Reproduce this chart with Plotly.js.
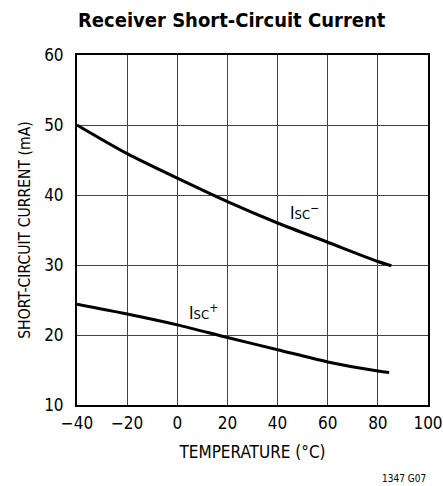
<!DOCTYPE html>
<html>
<head>
<meta charset="utf-8">
<script src="https://cdn.plot.ly/plotly-3.0.1.min.js"></script>
<style>html,body{margin:0;padding:0;background:#fff;}#chart{width:443px;height:486px;}</style>
</head>
<body>
<div id="chart"></div>
<script>
// Data
const temperature = [-40, -20, 0, 20, 40, 60, 80, 85.4];
const iscMinus = [50.0, 45.9, 42.4, 39.05, 36.0, 33.25, 30.5, 29.9];
const temperaturePlus = [-40, -20, 0, 20, 40, 60, 80, 84.5];
const iscPlus = [24.4, 23.0, 21.45, 19.65, 17.9, 16.15, 14.85, 14.65];
const xTicks = [-40, -20, 0, 20, 40, 60, 80, 100];
const xTickText = ['−40', '−20', '0', '20', '40', '60', '80', '100'];
const yTicks = [10, 20, 30, 40, 50, 60];

const FONT = '"DejaVu Sans Condensed", "DejaVu Sans", Arial, sans-serif';

const traces = [
  {x: temperature, y: iscMinus, mode: 'lines', line: {color: '#000', width: 3, shape: 'spline', smoothing: 0.8}, hoverinfo: 'none'},
  {x: temperaturePlus, y: iscPlus, mode: 'lines', line: {color: '#000', width: 3, shape: 'spline', smoothing: 0.8}, hoverinfo: 'none'}
];

const layout = {
  width: 443, height: 486,
  margin: {l: 77, r: 15, t: 55, b: 81},
  paper_bgcolor: '#fff', plot_bgcolor: '#fff',
  showlegend: false,
  font: {family: FONT, color: '#000', size: 17},
  title: {text: '<b>Receiver Short-Circuit Current</b>', x: 0.523, xanchor: 'center', y: 0.958, yanchor: 'middle',
          font: {family: FONT, size: 20, color: '#000'}},
  xaxis: {
    range: [-40, 100], tickvals: xTicks, ticktext: xTickText, ticks: '',
    showgrid: true, gridcolor: '#444', gridwidth: 1,
    zeroline: false, showline: true, linecolor: '#000', linewidth: 2, mirror: true,
    tickfont: {family: FONT, size: 17, color: '#000'}, ticklabelstandoff: 2,
    title: {text: 'TEMPERATURE (°C)', font: {family: FONT, size: 17, color: '#000'}, standoff: 14}
  },
  yaxis: {
    range: [10, 60], tickvals: yTicks, ticks: '',
    showgrid: true, gridcolor: '#444', gridwidth: 1,
    zeroline: false, showline: true, linecolor: '#000', linewidth: 2, mirror: true,
    tickfont: {family: FONT, size: 17, color: '#000'}, ticklabelstandoff: 8,
    title: {text: 'SHORT-CIRCUIT CURRENT (mA)', font: {family: FONT, size: 15.6, color: '#000'}, standoff: 10}
  },
  annotations: [
    {x: 44, y: 37.6, xref: 'x', yref: 'y', xanchor: 'left', yanchor: 'middle',
     text: 'I<span style="font-size:13px">SC</span><sup>−</sup>', showarrow: false,
     font: {family: FONT, size: 17, color: '#000'}},
    {x: 3.8, y: 23.3, xref: 'x', yref: 'y', xanchor: 'left', yanchor: 'middle',
     text: 'I<span style="font-size:13px">SC</span><sup>+</sup>', showarrow: false,
     font: {family: FONT, size: 17, color: '#000'}},
    {x: 1, y: 0, xref: 'paper', yref: 'paper', xanchor: 'right', yanchor: 'top', xshift: 0, yshift: -66,
     text: '1347 G07', showarrow: false, font: {family: FONT, size: 10, color: '#000'}}
  ]
};

Plotly.newPlot('chart', traces, layout, {displayModeBar: false, staticPlot: true});
</script>
</body>
</html>
